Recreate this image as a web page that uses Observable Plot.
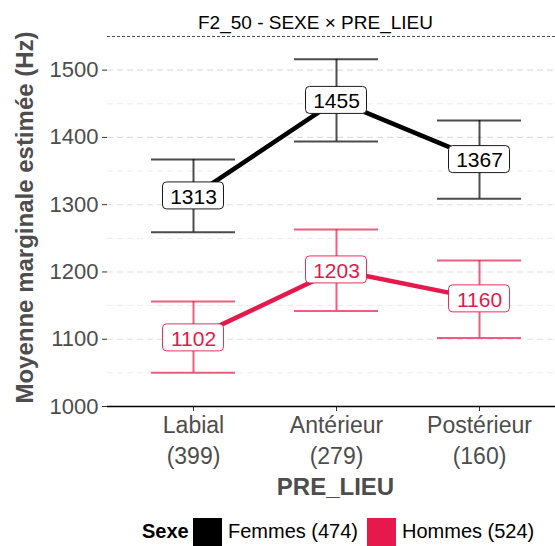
<!DOCTYPE html>
<html>
<head>
<meta charset="utf-8">
<script src="https://cdn.jsdelivr.net/npm/d3@7"></script>
<script src="https://cdn.jsdelivr.net/npm/@observablehq/plot@0.6"></script>
<style>
  html, body { margin: 0; padding: 0; background: #fff; }
  #wrap { position: relative; width: 555px; height: 546px; overflow: hidden; font-family: "Liberation Sans", Arial, sans-serif; }
  #legend { position: absolute; left: 0; top: 517px; height: 29px; width: 555px; }
  #legend span { position: absolute; top: 0; line-height: 29px; font-size: 20px; color: #000; white-space: nowrap; }
  #legend i { position: absolute; top: 1px; width: 29px; height: 29px; display: block; }
</style>
</head>
<body>
<div id="wrap"><div id="legend"></div></div>
<script>
// ---- data ----
const lieux = ["Labial", "Antérieur", "Postérieur"];
const nLieu = [399, 279, 160];
const sexes = ["Femmes", "Hommes"];
const nSexe = [474, 524];
const sexeColors = ["#000000", "#E5194B"];
const femmesMean = [1313, 1455, 1367];
const femmesLower = [1259, 1394, 1309];
const femmesUpper = [1367, 1516, 1425];
const hommesMean = [1102, 1203, 1160];
const hommesLower = [1050, 1142, 1102];
const hommesUpper = [1156, 1263, 1217];
const yMajor = [1000, 1100, 1200, 1300, 1400, 1500];
const yMinor = [1050, 1150, 1250, 1350, 1450, 1550];
const yDomain = [1000, 1550];
const titleText = "F2_50 - SEXE × PRE_LIEU";
const xTitle = "PRE_LIEU";
const yTitle = "Moyenne marginale estimée (Hz)";
const legendTitle = "Sexe";

// ---- table ----
const rows = [];
lieux.forEach((l, i) => {
  rows.push({sexe: "Femmes", lieu: l, mean: femmesMean[i], lower: femmesLower[i], upper: femmesUpper[i]});
  rows.push({sexe: "Hommes", lieu: l, mean: hommesMean[i], lower: hommesLower[i], upper: hommesUpper[i]});
});
const nOf = Object.fromEntries(lieux.map((l, i) => [l, nLieu[i]]));

const W = 555, H = 546, mL = 107, mR = 0, mT = 36, mB = 140;
const font = "Liberation Sans, Arial, sans-serif";

const chart = Plot.plot({
  width: W, height: H,
  marginLeft: mL, marginRight: mR, marginTop: mT, marginBottom: mB,
  style: {fontFamily: font, color: "#4d4d4d", background: "white", overflow: "visible"},
  x: {type: "point", domain: lieux, range: [193, 479], padding: 0, label: null},
  y: {domain: yDomain, label: null},
  color: {domain: sexes, range: sexeColors},
  marks: [
    Plot.ruleY(yMinor.slice(0, -1), {stroke: "#ebebeb", strokeWidth: 1, strokeDasharray: "6,4"}),
    Plot.ruleY(yMajor.slice(1), {stroke: "#dedede", strokeWidth: 1.1, strokeDasharray: "6,4"}),
    Plot.ruleY([yDomain[1]], {stroke: "#222", strokeWidth: 0.8, strokeDasharray: "3,2"}),
    // error bars
    Plot.ruleX(rows, {x: "lieu", y1: "lower", y2: "upper", stroke: "sexe", strokeOpacity: 0.7, strokeWidth: 2}),
    Plot.ruleY(rows, {x1: "lieu", x2: "lieu", y: "upper", stroke: "sexe", strokeOpacity: 0.7, strokeWidth: 2, insetLeft: -42, insetRight: -42}),
    Plot.ruleY(rows, {x1: "lieu", x2: "lieu", y: "lower", stroke: "sexe", strokeOpacity: 0.7, strokeWidth: 2, insetLeft: -42, insetRight: -42}),
    // lines
    Plot.line(rows, {x: "lieu", y: "mean", z: "sexe", stroke: "sexe", strokeWidth: 4.5}),
    // labels
    Plot.rect(rows, {x1: "lieu", x2: "lieu", y1: "mean", y2: "mean", insetLeft: -30.5, insetRight: -30.5, insetTop: -13.5, insetBottom: -13.5, rx: 4, fill: "white", stroke: "sexe", strokeWidth: 0.9}),
    Plot.text(rows, {x: "lieu", y: "mean", text: d => String(d.mean), fill: "sexe", fontSize: 21, dy: 1}),
    // axes
    Plot.axisY({ticks: yMajor, tickFormat: d => String(d), tickSize: 5, tickPadding: 4, fontSize: 22, label: null, stroke: "#333"}),
    Plot.axisX({tickFormat: d => `${d}\n(${nOf[d]})`, tickSize: 5, tickPadding: -1, fontSize: 23, lineHeight: 1.37, label: null, stroke: "#333"}),
    Plot.ruleY([yDomain[0]], {stroke: "#000", strokeWidth: 1.5}),
    Plot.ruleX([0], {stroke: "#000", strokeWidth: 1.5, dx: -(W - mL - mR) / 2}),
    // titles
    Plot.text([titleText], {frameAnchor: "top", lineAnchor: "middle", dy: -14, dx: -16, fontSize: 19, fill: "#000", text: d => d}),
    Plot.text([xTitle], {frameAnchor: "bottom", lineAnchor: "middle", dy: 81, dx: 4, fontSize: 24, fontWeight: "bold", fill: "#4d4d4d", text: d => d}),
    Plot.text([yTitle], {frameAnchor: "left", textAnchor: "middle", dx: -82, dy: -4, rotate: -90, fontSize: 24, fontWeight: "bold", fill: "#4d4d4d", text: d => d})
  ]
});
document.getElementById("wrap").prepend(chart);

// legend
const leg = document.getElementById("legend");
const items = [
  {type: "t", text: legendTitle, x: 142, bold: true},
  {type: "s", color: sexeColors[0], x: 193},
  {type: "t", text: `${sexes[0]} (${nSexe[0]})`, x: 228},
  {type: "s", color: sexeColors[1], x: 367},
  {type: "t", text: `${sexes[1]} (${nSexe[1]})`, x: 402}
];
items.forEach(it => {
  if (it.type === "t") {
    const s = document.createElement("span");
    s.textContent = it.text;
    s.style.left = it.x + "px";
    if (it.bold) s.style.fontWeight = "bold";
    leg.appendChild(s);
  } else {
    const b = document.createElement("i");
    b.style.left = it.x + "px";
    b.style.background = it.color;
    leg.appendChild(b);
  }
});
</script>
</body>
</html>
